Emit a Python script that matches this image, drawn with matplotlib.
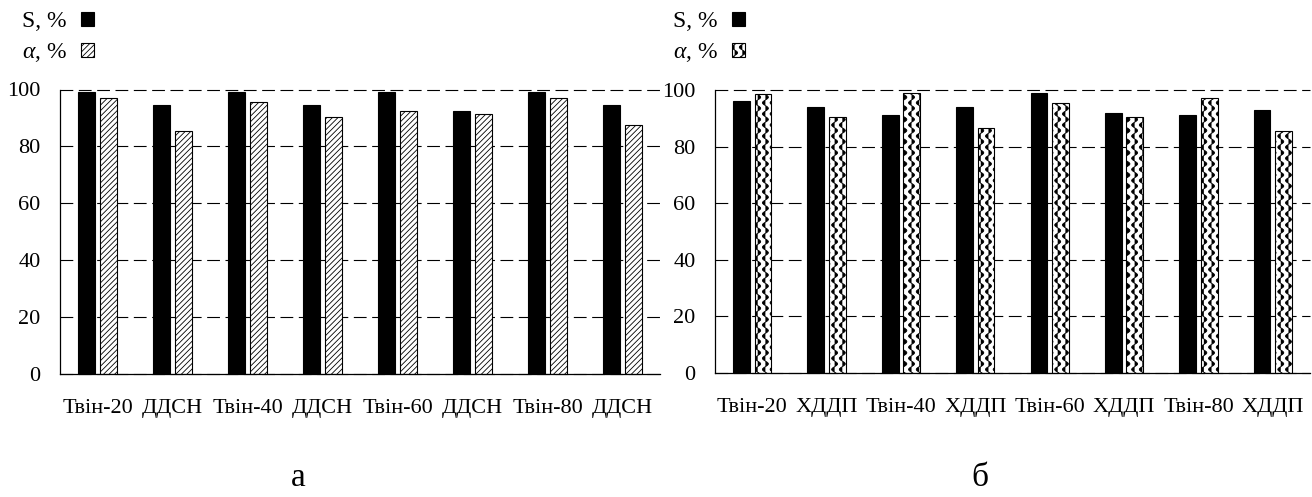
import warnings
warnings.filterwarnings('ignore')
import matplotlib
matplotlib.use('Agg')
import matplotlib.pyplot as plt
import matplotlib.hatch as mhatch
from matplotlib.path import Path
import numpy as np

# ---------------- data ----------------
labels_a = ['Твін-20', 'ДДСН', 'Твін-40', 'ДДСН', 'Твін-60', 'ДДСН', 'Твін-80', 'ДДСН']
S_a = [99, 94.5, 99, 94.5, 99, 92.5, 99, 94.5]
alpha_a = [97, 85.5, 95.5, 90.5, 92.5, 91.5, 97, 87.5]

labels_b = ['Твін-20', 'ХДДП', 'Твін-40', 'ХДДП', 'Твін-60', 'ХДДП', 'Твін-80', 'ХДДП']
S_b = [96, 94, 91, 94, 99, 92, 91, 93]
alpha_b = [98.5, 90.5, 99, 86.5, 95.5, 90.5, 97, 85.5]

yticks = [0, 20, 40, 60, 80, 100]
legend_labels = ['S, %', r'$\alpha$, %']
captions = ['а', 'б']


# ---------------- custom wave hatch ----------------
class WaveHatch(mhatch.HatchPatternBase):
    def __init__(self, hatch, density):
        self.n = hatch.count('w')
        self.cols = 13
        self.pts = 181
        self.num_vertices = self.cols * self.pts if self.n else 0

    def set_vertices_and_codes(self, vertices, codes):
        t = np.linspace(0, 1, self.pts)
        k = 0
        for c in range(self.cols):
            x0 = (c + 0.5) / self.cols
            vertices[k:k + self.pts, 0] = x0 + 0.03 * np.sin(2 * np.pi * 9 * t)
            vertices[k:k + self.pts, 1] = t
            codes[k] = Path.MOVETO
            codes[k + 1:k + self.pts] = Path.LINETO
            k += self.pts


mhatch._hatch_types.append(WaveHatch)

plt.rcParams['font.family'] = ['Liberation Serif', 'DejaVu Serif']
plt.rcParams['mathtext.fontset'] = 'custom'
plt.rcParams['mathtext.rm'] = 'Liberation Serif'
plt.rcParams['mathtext.it'] = 'Liberation Serif:italic'
plt.rcParams['hatch.linewidth'] = 0.6
plt.rcParams['hatch.color'] = 'black'

W, H = 1312, 497
fig = plt.figure(figsize=(W / 100, H / 100), dpi=100)


def rect(x0, x1, yt, yb):
    return [x0 / W, 1 - yb / H, (x1 - x0) / W, (yb - yt) / H]


def draw(ax, labels, S, A, hatch, leg_xy):
    x = np.arange(len(labels))
    w = 0.225
    off = 0.145
    bS = ax.bar(x - off, S, w, color='black', edgecolor='black', linewidth=0.8, zorder=3)
    bA = ax.bar(x + off, A, w, color='white', edgecolor='black', hatch=hatch,
                linewidth=0.8, zorder=3)
    ax.set_xlim(-0.5, len(labels) - 0.5)
    ax.set_ylim(0, 100)
    ax.set_yticks(yticks)
    ax.set_xticks(x, labels)
    ax.yaxis.grid(True, color='black', linestyle=(0, (11.5, 5)), linewidth=0.8)
    for gl in ax.get_ygridlines():
        gl.set_clip_on(False)
    ax.set_axisbelow(True)
    for s in ['top', 'right']:
        ax.spines[s].set_visible(False)
    for s in ['left', 'bottom']:
        ax.spines[s].set_linewidth(0.9)
        ax.spines[s].set_zorder(4)
    ax.tick_params(length=0)
    ax.tick_params(axis='x', pad=18, labelsize=16)
    ax.tick_params(axis='y', pad=14, labelsize=16)
    ax.legend(handles=[bS, bA], labels=legend_labels, loc='upper left',
              bbox_to_anchor=(leg_xy[0] / W, 1 - leg_xy[1] / H),
              bbox_transform=fig.transFigure, frameon=False, markerfirst=False,
              fontsize=17, handlelength=0.55, handleheight=0.55,
              handletextpad=0.6, labelspacing=0.4, borderpad=0, borderaxespad=0)


axA = fig.add_axes(rect(60, 660, 89.5, 374))
axB = fig.add_axes(rect(715, 1310, 90, 373))
draw(axA, labels_a, S_a, alpha_a, '//////', (22, 11))
draw(axB, labels_b, S_b, alpha_b, 'w', (673, 11))

fig.text(298 / W, 1 - 478 / H, captions[0], ha='center', va='center', fontsize=24)
fig.text(980 / W, 1 - 478 / H, captions[1], ha='center', va='center', fontsize=24)

fig.savefig('out.png', dpi=100)
